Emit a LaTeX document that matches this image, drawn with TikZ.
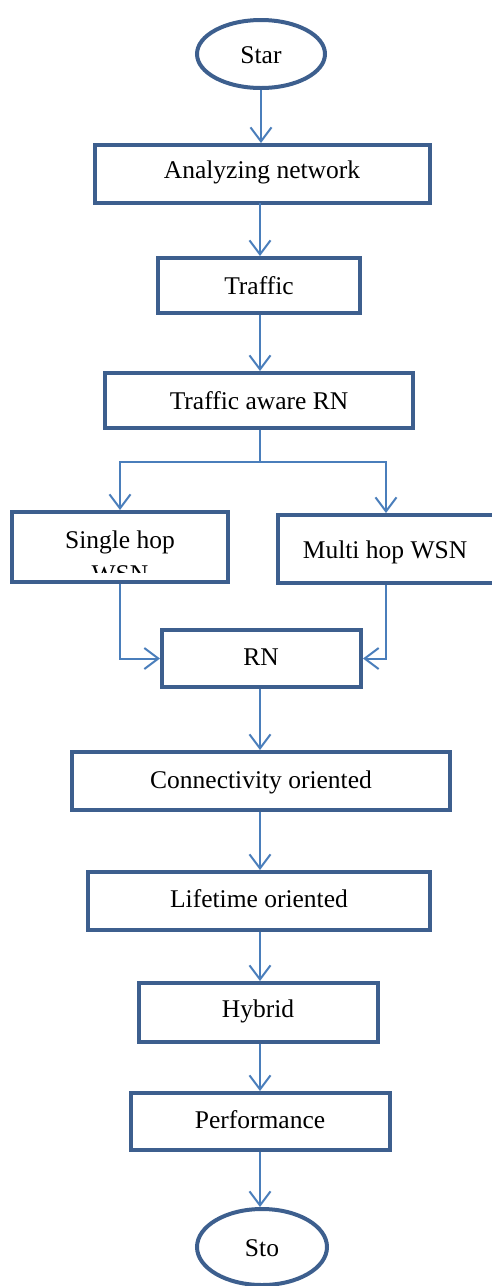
\documentclass[tikz,border=0pt]{standalone}
\usepackage{fontspec}
\setmainfont{Liberation Serif}
\usetikzlibrary{shapes.geometric,arrows.meta}
\definecolor{boxblue}{HTML}{3D5F8E}
\definecolor{linkblue}{HTML}{4A7EBB}
\tikzset{
  box/.style={draw=boxblue, line width=4pt, fill=white, rectangle, inner sep=0pt},
  oval/.style={draw=boxblue, line width=4pt, fill=white, ellipse, inner sep=0pt},
  lbl/.style={anchor=base, inner sep=0pt, font=\fontsize{25.5}{30}\selectfont},
  link/.style={draw=linkblue, line width=2pt},
  arr/.style={link, -{Straight Barb[length=14pt,width=21pt,line width=2pt]}}
}
\begin{document}
\begin{tikzpicture}[x=1pt,y=-1pt]
\useasboundingbox (0,0) rectangle (491,1286);

% shapes
\node[oval, minimum width=128pt, minimum height=68pt] (start) at (261,54) {};
\node[box, minimum width=335pt, minimum height=58pt] (analyze) at (262.5,174) {};
\node[box, minimum width=202pt, minimum height=55pt] (traffic) at (259,285.5) {};
\node[box, minimum width=308pt, minimum height=55pt] (tarn) at (259,400.5) {};
\node[box, minimum width=216pt, minimum height=70pt] (single) at (120,547) {};
\node[box, minimum width=218pt, minimum height=68pt] (multi) at (387,549) {};
\node[box, minimum width=199pt, minimum height=57pt] (rn) at (261.5,658.5) {};
\node[box, minimum width=378pt, minimum height=58pt] (conn) at (261,781) {};
\node[box, minimum width=342pt, minimum height=58pt] (life) at (259,901) {};
\node[box, minimum width=239pt, minimum height=59pt] (hybrid) at (258.5,1012.5) {};
\node[box, minimum width=259pt, minimum height=57pt] (perf) at (260.5,1121.5) {};
\node[oval, minimum width=130pt, minimum height=76pt] (stop) at (262,1247) {};

% labels
\node[lbl] (tstart) at (261,63) {Star};
\node[lbl] (tanalyze) at (262,178) {Analyzing network};
\node[lbl] (ttraffic) at (259,294) {Traffic};
\node[lbl] (ttarn) at (259,409) {Traffic aware RN};
\node[lbl] (tsingle) at (120,548) {Single hop};
\begin{scope}
  \clip (14,514) rectangle (226,572);
  \node[lbl] (tsingle2) at (120,582) {WSN};
\end{scope}
\node[lbl] (tmulti) at (385,558) {Multi hop WSN};
\node[lbl] (trn) at (261,665) {RN};
\node[lbl] (tconn) at (261,788) {Connectivity oriented};
\node[lbl] (tlife) at (259,907) {Lifetime oriented};
\node[lbl] (thybrid) at (258,1017) {Hybrid};
\node[lbl] (tperf) at (260,1128) {Performance};
\node[lbl] (tstop) at (262,1256) {Sto};

% connectors
\coordinate (split) at (260,462);
\draw[arr] (start.south) -- (start.south |- analyze.north);
\draw[arr] (260,203) -- (traffic.north -| 260,0);
\draw[arr] (traffic.south -| 260,0) -- (tarn.north -| 260,0);
\draw[link] (tarn.south -| 260,0) -- (split);
\draw[arr] (split) -| (single.north);
\draw[arr] (split) -| (multi.north -| 386,0);
\draw[arr] (single.south) |- (rn.west);
\draw[arr] (multi.south -| 386,0) |- (rn.east);
\draw[arr] (rn.south -| 260,0) -- (conn.north -| 260,0);
\draw[arr] (conn.south -| 260,0) -- (life.north -| 260,0);
\draw[arr] (life.south -| 260,0) -- (hybrid.north -| 260,0);
\draw[arr] (hybrid.south -| 260,0) -- (perf.north -| 260,0);
\draw[arr] (perf.south -| 260,0) -- (stop.north -| 260,0);
\end{tikzpicture}
\end{document}
